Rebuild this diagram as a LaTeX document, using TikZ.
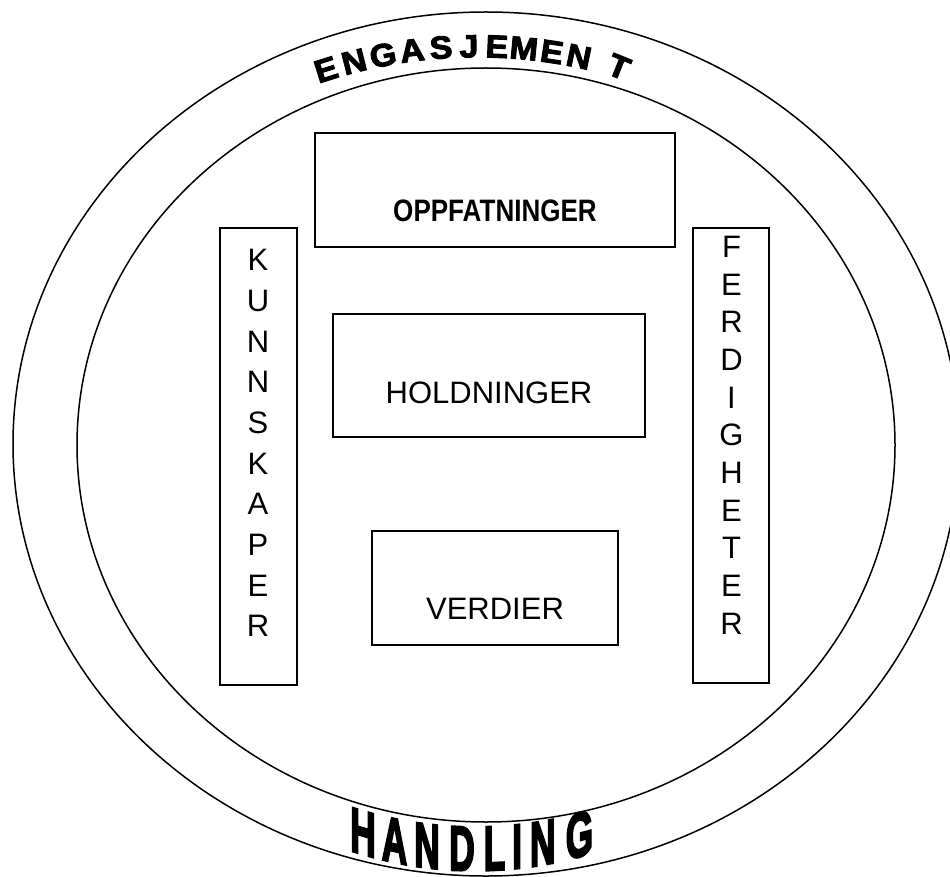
\documentclass[tikz,border=0pt]{standalone}
\usepackage{fontspec}
\usepackage{graphicx}
\setmainfont{Liberation Sans}
\newfontfamily\engfont[FakeBold=3]{Liberation Sans Bold}
\newfontfamily\handfont[FakeBold=4]{Liberation Sans Bold}
\begin{document}
\begin{tikzpicture}[x=1pt,y=1pt,
  ring/.style={draw=black,line width=1.5pt},
  box/.style={draw=black,line width=1.6pt,rectangle,inner sep=0pt},
  lbl/.style={inner sep=0pt,font=\fontsize{31}{37}\selectfont},
  vlet/.style={inner sep=0pt,font=\fontsize{31}{37}\selectfont},
  arcup/.style={inner sep=0pt,text height=22.5pt,text depth=0pt,font=\engfont\fontsize{32}{36}\selectfont},
  arcdown/.style={inner sep=0pt,text height=45pt,text depth=0pt,font=\handfont\fontsize{63}{70}\selectfont}]
\clip (0,0) rectangle (950,-877);
\useasboundingbox (0,0) rectangle (950,-877);
% rings
\draw[ring] (486,-444) ellipse [x radius=473, y radius=432];
\draw[ring] (486,-445) ellipse [x radius=409, y radius=377];
% boxes
\node[box,minimum width=360pt,minimum height=114pt] (opp) at (495,-190) {};
\node[lbl] (opptext) at (495,-210.5) {\bfseries\scalebox{0.84}[1]{OPPFATNINGER}};
\node[box,minimum width=312pt,minimum height=123pt] (hold) at (489,-375.5) {};
\node[lbl] (holdtext) at (489,-392.5) {HOLDNINGER};
\node[box,minimum width=246pt,minimum height=114pt] (verd) at (495,-588) {};
\node[lbl] (verdtext) at (495,-609) {VERDIER};
\node[box,minimum width=77pt,minimum height=457pt] (kunn) at (258.5,-456.5) {};
\node[box,minimum width=76pt,minimum height=455pt] (ferd) at (731,-455.5) {};
\foreach \ch [count=\i from 0] in {K,U,N,N,S,K,A,P,E,R}
  \node[vlet] (kl\i) at (258,{-260-40.7*\i}) {\ch};
\foreach \ch [count=\i from 0] in {F,E,R,D,I,G,H,E,T,E,R}
  \node[vlet] (fl\i) at (731.5,{-246.7-37.7*\i}) {\ch};
% ENGASJEMENT along the top arc (position angle / letter rotation)
\foreach \ch/\a/\r [count=\i] in {E/17.58/17.58,N/14.24/14.24,G/10.84/10.84,A/7.47/7.47,S/4.13/4.13,J/0.92/0.92,E/-2.29/-2.29,M/-5.39/-5.39,E/-8.63/-8.63,N/-11.77/-11.77,T/-16.5/-22}{
  \begin{scope}[shift={({477-500*sin(\a)},{-546+500*cos(\a)})},rotate=\r]
    \node[arcup,transform shape] (eng\i) at (0,0) {\scalebox{1.06}[1]{\ch}};
  \end{scope}
}
% HANDLING along the bottom arc
\foreach \ch/\x/\y/\s [count=\i] in {H/363/831.8/-0.295,A/394.5/839.7/-0.208,N/427/845.1/-0.122,D/462/847.8/-0.033,L/494.5/847.5/0.049,I/517/845.8/0.107,N/542.7/842.2/0.174,G/579.5/834/0.274}{
  \begin{scope}[shift={(\x,-\y)},yslant=\s]
    \node[arcdown,transform shape] (hand\i) at (0,0) {\scalebox{0.56}[1]{\ch}};
  \end{scope}
}
\end{tikzpicture}
\end{document}
